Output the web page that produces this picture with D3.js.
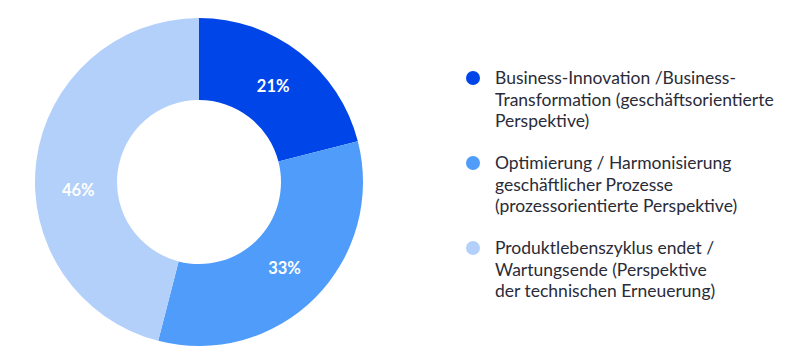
<!DOCTYPE html>
<html>
<head>
<meta charset="utf-8">
<script src="https://cdn.jsdelivr.net/npm/d3@7"></script>
<style>
  body { margin: 0; background: #fff; }
  svg { display: block; }
</style>
</head>
<body>
<div id="chart"></div>
<script>
const categories = [
  ['Business-Innovation /Business-', 'Transformation (geschäftsorientierte', 'Perspektive)'],
  ['Optimierung / Harmonisierung', 'geschäftlicher Prozesse', '(prozessorientierte Perspektive)'],
  ['Produktlebenszyklus endet /', 'Wartungsende (Perspektive', 'der technischen Erneuerung)']
]
const values = [21, 33, 46]
const colors = ['#0045e8', '#509cfa', '#b2d0fa']

const width = 800
const height = 362
const cx = 199
const cy = 182
const outerR = 164
const innerR = 82

const svg = d3.select('#chart')
  .append('svg')
  .attr('width', width)
  .attr('height', height)
  .attr('viewBox', [0, 0, width, height])

const pie = d3.pie().sort(null).value(d => d)
const arc = d3.arc().innerRadius(innerR).outerRadius(outerR)

const donut = svg.append('g')
  .attr('transform', `translate(${cx}, ${cy})`)

const arcs = pie(values)

donut.selectAll('path')
  .data(arcs)
  .join('path')
  .attr('d', arc)
  .attr('fill', (d, i) => colors[i])

// label sits near the middle of the ring; the big slice label is pulled a bit lower
const labelShift = [0, 0, -0.19]
const labelPos = (d, i) => {
  const a = (d.startAngle + d.endAngle) / 2 + labelShift[i]
  const r = 121
  return [r * Math.sin(a), -r * Math.cos(a)]
}

donut.selectAll('text')
  .data(arcs)
  .join('text')
  .attr('transform', (d, i) => `translate(${labelPos(d, i)})`)
  .attr('text-anchor', 'middle')
  .attr('dy', '0.36em')
  .attr('fill', '#fff')
  .attr('font-family', 'Lato, sans-serif')
  .attr('font-weight', 'bold')
  .attr('font-size', 16.5)
  .text(d => d.data + '%')

// legend
const legendY = d3.scaleBand()
  .domain(d3.range(categories.length))
  .range([56, 311])

const legend = svg.append('g')
  .selectAll('g')
  .data(categories)
  .join('g')
  .attr('transform', (d, i) => `translate(473, ${legendY(i) + 22})`)

legend.append('circle')
  .attr('r', 7)
  .attr('fill', (d, i) => colors[i])

legend.append('text')
  .attr('fill', '#2a2b38')
  .attr('font-family', 'Lato, sans-serif')
  .attr('font-size', 17.5)
  .selectAll('tspan')
  .data(d => d)
  .join('tspan')
  .attr('x', 22)
  .attr('y', (d, j) => j * 21.3)
  .attr('dy', '0.36em')
  .text(d => d)
</script>
</body>
</html>
